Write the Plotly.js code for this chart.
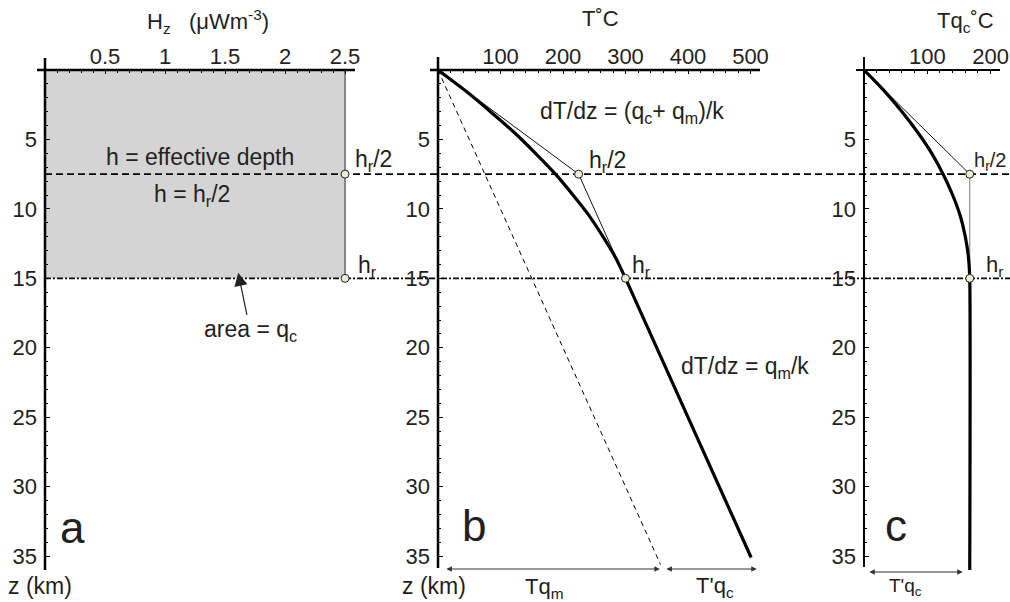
<!DOCTYPE html>
<html><head><meta charset="utf-8">
<script src="https://cdn.plot.ly/plotly-3.0.1.min.js"></script>
<style>html,body{margin:0;padding:0;background:#fff}#chart{width:1010px;height:602px}</style>
</head><body><div id="chart"></div>
<script>
// ---- Panel a: heat production profile ----
const heatDepthKm = [0, 15];
const heatProduction = [2.5, 2.5];
const refDepthKm = [7.5, 15];            // h_r/2 and h_r
// ---- Panel b: geotherm ----
const geothermDepthKm = [0, 1.5, 3, 4.5, 6, 7.5, 9, 10.5, 12, 13.5, 15, 35.1];
const geothermTempC   = [0, 44, 84, 122, 156, 188, 216, 242, 264, 284, 300, 501];
const mantleDepthKm = [0, 35.6];
const mantleTempC   = [0, 356];
const tangentDepthKm = [0, 7.5, 15];
const tangentTempC   = [0, 225, 300];
// ---- Panel c: crustal contribution ----
const crustDepthKm = [0, 1.5, 3, 4.5, 6, 7.5, 9, 10.5, 12, 13.5, 15, 36.3];
const crustTempC   = [0, 32, 60, 85, 107, 125, 140, 152, 160, 165, 167, 167];
const crustTangentDepthKm = [0, 7.5];
const crustTangentTempC   = [0, 167];
const crustStepDepthKm = [7.5, 15];
const crustStepTempC   = [167, 167];
// ---- arrow spans (temperature) ----
const spanTqm  = [11, 355];
const spanTqcB = [363, 510];
const spanTqcC = [6, 156];

const W = 1010, TOP = 70, BOT = 570;
const px = v => v / W;
const py = v => (BOT - v) / (BOT - TOP);
const INK = '#231f20';
const FONT = 'Liberation Sans, Arial, Helvetica, sans-serif';
const mk = {symbol:'circle', size:8, color:'#efecd6', line:{color:'#222', width:1}};

const traces = [
  // panel a
  {x: heatProduction, y: heatDepthKm, xaxis:'x', yaxis:'y', mode:'lines', fill:'tozerox',
   fillcolor:'rgba(0,0,0,0.17)', line:{color:'#666', width:1.5}, hoverinfo:'skip'},
  {x: [heatProduction[0], heatProduction[1]], y: refDepthKm, xaxis:'x', yaxis:'y', mode:'markers',
   marker: mk, cliponaxis:false, hoverinfo:'skip'},
  // panel b
  {x: mantleTempC, y: mantleDepthKm, xaxis:'x2', yaxis:'y2', mode:'lines',
   line:{color:'#000', width:1, dash:'5px,4px'}, hoverinfo:'skip'},
  {x: tangentTempC, y: tangentDepthKm, xaxis:'x2', yaxis:'y2', mode:'lines',
   line:{color:'#111', width:1}, hoverinfo:'skip'},
  {x: geothermTempC, y: geothermDepthKm, xaxis:'x2', yaxis:'y2', mode:'lines',
   line:{color:'#000', width:3.2, shape:'spline', smoothing:0.6}, hoverinfo:'skip'},
  {x: tangentTempC.slice(1), y: tangentDepthKm.slice(1), xaxis:'x2', yaxis:'y2', mode:'markers',
   marker: mk, cliponaxis:false, hoverinfo:'skip'},
  // panel c
  {x: crustTangentTempC, y: crustTangentDepthKm, xaxis:'x3', yaxis:'y3', mode:'lines',
   line:{color:'#111', width:1}, hoverinfo:'skip'},
  {x: crustStepTempC, y: crustStepDepthKm, xaxis:'x3', yaxis:'y3', mode:'lines',
   line:{color:'#777', width:1}, hoverinfo:'skip'},
  {x: crustTempC, y: crustDepthKm, xaxis:'x3', yaxis:'y3', mode:'lines',
   line:{color:'#000', width:3.2, shape:'spline', smoothing:0.6}, hoverinfo:'skip'},
  {x: crustStepTempC, y: crustStepDepthKm, xaxis:'x3', yaxis:'y3', mode:'markers',
   marker: mk, cliponaxis:false, hoverinfo:'skip'}
];

function xAxis(domPx, range, dtick, minorDtick, anchor) {
  return {domain:[px(domPx[0]), px(domPx[1])], range: range, anchor: anchor, side:'top',
    tickmode:'linear', tick0:0, dtick: dtick, ticks:'inside', ticklen:4, tickwidth:1, tickcolor:'#000',
    minor:{dtick: minorDtick, tick0:0, ticks:'inside', ticklen:3, tickwidth:1, tickcolor:'#000', showgrid:false},
    showgrid:false, zeroline:false, showline:false, ticklabelstandoff:1, labelalias:{'0':''},
    tickfont:{family:FONT, size:22, color:INK}, fixedrange:true};
}
function yAxis(anchor) {
  return {domain:[0,1], range:[36, 0], anchor: anchor,
    tickmode:'linear', tick0:0, dtick:5, ticks:'inside', ticklen:5, tickwidth:1, tickcolor:'#000',
    minor:{dtick:1, tick0:0, ticks:'inside', ticklen:3, tickwidth:1, tickcolor:'#000', showgrid:false},
    showgrid:false, zeroline:false, showline:false, ticklabelstandoff:7, labelalias:{'0':''},
    tickfont:{family:FONT, size:22, color:INK}, fixedrange:true};
}

const shapes = [];
function seg(x0, y0, x1, y1, w) {
  shapes.push({type:'line', xref:'paper', yref:'paper', x0:px(x0), x1:px(x1), y0:py(y0), y1:py(y1),
    line:{color:'#000', width:w}, layer:'above'});
}
// reference depth lines across all panels
shapes.push({type:'line', xref:'paper', yref:'y', x0:px(45), x1:1, y0:refDepthKm[0], y1:refDepthKm[0],
  line:{color:'#000', width:1.6, dash:'7px,4px'}, layer:'below'});
shapes.push({type:'line', xref:'paper', yref:'y', x0:px(45), x1:1, y0:refDepthKm[1], y1:refDepthKm[1],
  line:{color:'#000', width:1.6, dash:'6px,2px,2px,2px'}, layer:'below'});
// axis lines
seg(37, 70, 355, 70, 2.5); seg(45, 58, 45, 570, 2.5);
seg(430, 70, 760, 70, 2.5); seg(438, 57, 438, 568, 2.5);
seg(856, 70, 1000, 70, 2); seg(864, 57, 864, 567, 2);

const annotations = [];
function txt(text, x, y, size, extra) {
  annotations.push(Object.assign({text: text, xref:'paper', yref:'paper', x:px(x), y:py(y),
    xanchor:'center', yanchor:'middle', showarrow:false,
    font:{family:FONT, size:size || 22, color:INK}}, extra || {}));
}
// titles
txt('H<sub>z</sub>\u00a0\u00a0\u00a0(\u03bcWm<sup>-3</sup>)', 208, 22, 22);
txt('T\u02daC', 600, 19, 22);
txt('Tq<sub>c</sub>\u02daC', 965, 22, 22);
// panel a
txt('h = effective depth', 200, 157, 23);
txt('h = h<sub>r</sub>/2', 192, 195, 23);
txt('h<sub>r</sub>/2', 373, 160, 23);
txt('h<sub>r</sub>', 367, 266, 23);
txt('a', 72, 527, 44);
txt('z (km)', 40, 586, 23);
annotations.push({text:'area = q<sub>c</sub>', xref:'x', yref:'y', x:1.61, y:14.6, ax:12, ay:58,
  showarrow:true, arrowhead:2, arrowsize:2.2, arrowwidth:1.2, arrowcolor:'#222', standoff:0,
  font:{family:FONT, size:23, color:INK}});
// panel b
txt('dT/dz = (q<sub>c</sub>+ q<sub>m</sub>)/k', 632, 113, 23);
txt('h<sub>r</sub>/2', 607, 161, 23);
txt('h<sub>r</sub>', 641, 266, 23);
txt('dT/dz = q<sub>m</sub>/k', 745, 367, 23);
txt('b', 474, 525, 44);
txt('z (km)', 434, 586, 23);
txt('Tq<sub>m</sub>', 544, 588, 22);
txt("T'q<sub>c</sub>", 715, 587, 22);
// panel c
txt('c', 896, 525, 44);
txt("T'q<sub>c</sub>", 905, 587, 19);
txt('h<sub>r</sub>/2', 972, 161, 20, {xanchor:'left'});
txt('h<sub>r</sub>', 984, 266, 22, {xanchor:'left'});
// double-headed span arrows
function span(xr, vals, yPx) {
  annotations.push({text:'', xref:xr, yref:'paper', x:vals[1], y:py(yPx), axref:xr, ax:vals[0],
    ayref:'pixel', ay:0, showarrow:true, arrowside:'end+start', arrowhead:2, arrowsize:1,
    arrowwidth:1.1, arrowcolor:'#333', standoff:0, startstandoff:0});
}
span('x2', spanTqm, 569);
span('x2', spanTqcB, 569);
span('x3', spanTqcC, 572);

const layout = {
  width:1010, height:602, margin:{l:0, r:0, t:70, b:32},
  paper_bgcolor:'#fff', plot_bgcolor:'rgba(0,0,0,0)', showlegend:false,
  font:{family:FONT, color:INK},
  xaxis: xAxis([45, 355], [0, 2.583], 0.5, 0.1, 'y'),
  yaxis: yAxis('x'),
  xaxis2: xAxis([438, 760], [0, 515.2], 100, 20, 'y2'),
  yaxis2: yAxis('x2'),
  xaxis3: xAxis([864, 1000], [0, 214.8], 100, 20, 'y3'),
  yaxis3: yAxis('x3'),
  shapes: shapes, annotations: annotations
};
Plotly.newPlot('chart', traces, layout, {displayModeBar:false, staticPlot:true});
</script></body></html>
